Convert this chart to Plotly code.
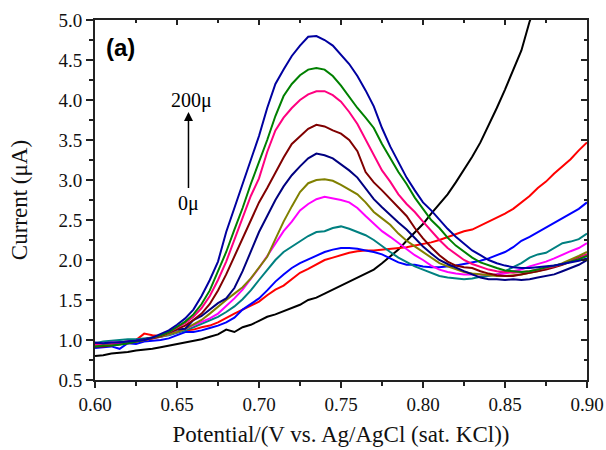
import numpy as np
import plotly.graph_objects as go

potential = [round(0.600 + 0.005 * i, 3) for i in range(61)]

i_black = [0.80, 0.81, 0.83, 0.84, 0.85, 0.87, 0.88, 0.89, 0.91, 0.93, 0.95,
           0.97, 0.99, 1.01, 1.04, 1.07, 1.13, 1.10, 1.16, 1.19, 1.24,
           1.29, 1.32, 1.36, 1.40, 1.44, 1.50, 1.53, 1.58, 1.63, 1.68,
           1.73, 1.78, 1.83, 1.88, 1.96, 2.04, 2.13, 2.24, 2.35, 2.45,
           2.58, 2.70, 2.82, 2.97, 3.13, 3.29, 3.47, 3.68, 3.90, 4.13,
           4.38, 4.62, 4.98, 5.25]

i_red = [0.94, 0.95, 0.96, 0.97, 0.98, 1.00, 1.08, 1.06, 1.05, 1.07, 1.10,
         1.12, 1.13, 1.16, 1.18, 1.22, 1.28, 1.33, 1.38, 1.43, 1.48,
         1.56, 1.63, 1.68, 1.76, 1.84, 1.89, 1.94, 2.00, 2.03, 2.06,
         2.09, 2.11, 2.12, 2.12, 2.13, 2.14, 2.15, 2.16, 2.18, 2.20,
         2.22, 2.25, 2.29, 2.33, 2.36, 2.38, 2.43, 2.47, 2.52, 2.58,
         2.64, 2.72, 2.80, 2.90, 2.98, 3.08, 3.17, 3.26, 3.37, 3.47]

i_blue = [0.90, 0.91, 0.92, 0.89, 0.96, 0.95, 0.98, 0.99, 1.00, 1.02, 1.06,
          1.10, 1.10, 1.12, 1.15, 1.18, 1.22, 1.28, 1.38, 1.45, 1.52,
          1.62, 1.73, 1.82, 1.90, 1.96, 2.01, 2.06, 2.10, 2.13, 2.15,
          2.15, 2.14, 2.12, 2.10, 2.07, 2.02, 1.97, 1.94, 1.94, 1.92,
          1.91, 1.91, 1.92, 1.93, 1.95, 1.97, 1.99, 2.02, 2.06, 2.10,
          2.16, 2.24, 2.29, 2.35, 2.41, 2.47, 2.52, 2.58, 2.64, 2.72]

i_teal = [0.96, 0.98, 0.99, 1.00, 1.01, 1.01, 1.02, 1.03, 1.04, 1.06, 1.09,
          1.12, 1.16, 1.20, 1.24, 1.29, 1.35, 1.42, 1.51, 1.62, 1.75,
          1.87, 2.00, 2.10, 2.17, 2.24, 2.30, 2.35, 2.36, 2.40, 2.42,
          2.39, 2.35, 2.31, 2.25, 2.17, 2.10, 2.03, 1.97, 1.92, 1.88,
          1.84, 1.80, 1.78, 1.77, 1.76, 1.77, 1.79, 1.80, 1.82, 1.86,
          1.91, 1.96, 2.03, 2.07, 2.09, 2.15, 2.21, 2.23, 2.26, 2.33]

i_magenta = [0.96, 0.96, 0.97, 0.97, 0.98, 0.99, 1.00, 1.02, 1.04, 1.07, 1.10,
             1.14, 1.18, 1.22, 1.27, 1.33, 1.42, 1.52, 1.63, 1.76, 1.90,
             2.05, 2.20, 2.36, 2.48, 2.62, 2.70, 2.76, 2.79, 2.77, 2.75,
             2.72, 2.65, 2.55, 2.45, 2.36, 2.29, 2.21, 2.13, 2.06, 2.00,
             1.93, 1.88, 1.85, 1.83, 1.82, 1.82, 1.82, 1.81, 1.82, 1.83,
             1.86, 1.88, 1.92, 1.95, 1.98, 2.02, 2.07, 2.11, 2.15, 2.21]

i_olive = [0.93, 0.94, 0.94, 0.95, 0.97, 0.98, 1.00, 1.02, 1.04, 1.07, 1.10,
           1.14, 1.19, 1.25, 1.33, 1.42, 1.50, 1.58, 1.66, 1.77, 1.90,
           2.04, 2.26, 2.48, 2.67, 2.85, 2.96, 3.00, 3.01, 2.99, 2.94,
           2.88, 2.82, 2.72, 2.60, 2.52, 2.44, 2.33, 2.24, 2.17, 2.10,
           2.02, 1.96, 1.92, 1.88, 1.85, 1.83, 1.82, 1.81, 1.80, 1.80,
           1.81, 1.82, 1.84, 1.86, 1.89, 1.92, 1.96, 2.00, 2.05, 2.10]

i_navy = [0.95, 0.95, 0.96, 0.97, 0.98, 0.99, 1.01, 1.03, 1.06, 1.10, 1.13,
          1.14, 1.25, 1.30, 1.38, 1.46, 1.52, 1.65, 1.86, 2.10, 2.35,
          2.55, 2.75, 2.92, 3.06, 3.17, 3.27, 3.33, 3.31, 3.27, 3.20,
          3.12, 3.03, 2.90, 2.76, 2.66, 2.56, 2.47, 2.38, 2.27, 2.17,
          2.08, 2.00, 1.95, 1.90, 1.86, 1.82, 1.78, 1.76, 1.76, 1.75,
          1.76, 1.75, 1.76, 1.78, 1.80, 1.82, 1.86, 1.90, 1.94, 2.00]

i_maroon = [0.92, 0.92, 0.93, 0.95, 0.96, 0.98, 1.00, 1.02, 1.05, 1.09, 1.13,
            1.18, 1.25, 1.33, 1.45, 1.62, 1.82, 2.05, 2.28, 2.50, 2.72,
            2.90, 3.10, 3.28, 3.45, 3.55, 3.64, 3.69, 3.67, 3.62, 3.58,
            3.50, 3.36, 3.10, 2.97, 2.87, 2.76, 2.65, 2.55, 2.40, 2.27,
            2.16, 2.06, 1.98, 1.93, 1.91, 1.90, 1.86, 1.83, 1.81, 1.80,
            1.80, 1.82, 1.84, 1.86, 1.88, 1.91, 1.94, 1.98, 2.03, 2.07]

i_pink = [0.94, 0.94, 0.95, 0.96, 0.97, 0.98, 1.00, 1.03, 1.06, 1.10, 1.15,
          1.21, 1.29, 1.40, 1.55, 1.75, 1.98, 2.25, 2.52, 2.80, 3.02,
          3.35, 3.62, 3.78, 3.90, 4.00, 4.07, 4.11, 4.11, 4.06, 3.98,
          3.85, 3.70, 3.50, 3.32, 3.12, 2.98, 2.82, 2.70, 2.60, 2.48,
          2.36, 2.25, 2.15, 2.07, 2.00, 1.95, 1.91, 1.88, 1.86, 1.85,
          1.84, 1.85, 1.86, 1.88, 1.90, 1.92, 1.95, 1.98, 2.02, 2.07]

i_green = [0.92, 0.93, 0.93, 0.94, 0.96, 0.98, 1.00, 1.03, 1.06, 1.10, 1.16,
           1.23, 1.32, 1.45, 1.62, 1.85, 2.10, 2.38, 2.65, 2.95, 3.22,
           3.50, 3.80, 4.05, 4.20, 4.31, 4.38, 4.40, 4.38, 4.30, 4.18,
           4.04, 3.90, 3.78, 3.65, 3.45, 3.28, 3.10, 2.95, 2.78, 2.64,
           2.50, 2.40, 2.28, 2.18, 2.10, 2.03, 1.97, 1.93, 1.90, 1.87,
           1.86, 1.85, 1.86, 1.88, 1.91, 1.93, 1.95, 1.98, 2.01, 2.05]

i_darkblue = [0.97, 0.96, 0.97, 0.97, 0.98, 0.99, 1.00, 1.03, 1.07, 1.12, 1.19,
              1.27, 1.38, 1.55, 1.75, 1.98, 2.35, 2.65, 2.95, 3.27, 3.55,
              3.90, 4.20, 4.38, 4.55, 4.68, 4.79, 4.80, 4.75, 4.68, 4.56,
              4.45, 4.30, 4.12, 3.92, 3.65, 3.42, 3.22, 3.03, 2.87, 2.72,
              2.62, 2.50, 2.39, 2.29, 2.20, 2.12, 2.06, 2.00, 1.96, 1.93,
              1.91, 1.90, 1.90, 1.91, 1.92, 1.93, 1.95, 1.97, 1.99, 2.02]

series = [
    (i_black, "#000000"),
    (i_red, "#FF0000"),
    (i_blue, "#0000FF"),
    (i_teal, "#008080"),
    (i_magenta, "#FF00FF"),
    (i_olive, "#808000"),
    (i_navy, "#000080"),
    (i_maroon, "#800000"),
    (i_pink, "#FF0080"),
    (i_green, "#008000"),
    (i_darkblue, "#0000A0"),
]

fig = go.Figure()
for vals, col in series:
    fig.add_trace(go.Scatter(x=potential[:len(vals)], y=vals, mode="lines",
                             line=dict(color=col, width=2), showlegend=False,
                             hoverinfo="skip"))

# dummy trace to carry the mirrored (top/right) axes
fig.add_trace(go.Scatter(x=[None], y=[None], xaxis="x2", yaxis="y2",
                         showlegend=False, hoverinfo="skip"))

serif = "Liberation Serif, Times New Roman, serif"
axis_common = dict(showgrid=False, zeroline=False, showline=True,
                   linecolor="#222222", linewidth=2, tickcolor="#222222",
                   tickwidth=1.5, automargin=False)

fig.update_layout(
    template="none",
    width=606, height=450,
    margin=dict(l=95, r=19, t=20, b=70, pad=0),
    paper_bgcolor="white", plot_bgcolor="white",
    font=dict(family=serif, size=19, color="#111111"),
    xaxis=dict(range=[0.6, 0.9], dtick=0.05, tickformat=".2f",
               ticks="outside", ticklen=6,
               minor=dict(dtick=0.025, ticks="outside", ticklen=4,
                          tickcolor="#222222"),
               title=dict(text="Potential/(V vs. Ag/AgCl (sat. KCl))",
                          font=dict(size=23), standoff=12),
               tickfont=dict(size=19), **axis_common),
    yaxis=dict(range=[0.5, 5.0], dtick=0.5, tickformat=".1f",
               ticks="outside", ticklen=7,
               minor=dict(dtick=0.25, ticks="outside", ticklen=4,
                          tickcolor="#222222"),
               title=dict(text="Current (μA)", font=dict(size=23), standoff=24),
               tickfont=dict(size=19), **axis_common),
    xaxis2=dict(range=[0.6, 0.9], dtick=0.05, overlaying="x", side="top",
                ticks="inside", ticklen=5, showticklabels=False,
                minor=dict(dtick=0.025, ticks="inside", ticklen=3,
                           tickcolor="#222222"),
                **axis_common),
    yaxis2=dict(range=[0.5, 5.0], dtick=0.5, overlaying="y", side="right",
                ticks="inside", ticklen=6, showticklabels=False,
                minor=dict(dtick=0.25, ticks="inside", ticklen=3,
                           tickcolor="#222222"),
                **axis_common),
)

fig.add_annotation(x=0.657, y=3.85, ax=0.657, ay=2.88, xref="x", yref="y",
                   axref="x", ayref="y", text="", showarrow=True,
                   arrowhead=2, arrowsize=1.2, arrowwidth=1.5, arrowcolor="black")
fig.add_annotation(x=0.6588, y=4.0, xref="x", yref="y", text="200μ",
                   showarrow=False, font=dict(family=serif, size=20, color="black"))
fig.add_annotation(x=0.657, y=2.71, xref="x", yref="y", text="0μ",
                   showarrow=False, font=dict(family=serif, size=20, color="black"))
fig.add_annotation(x=0.6158, y=4.66, xref="x", yref="y", text="<b>(a)</b>",
                   showarrow=False,
                   font=dict(family="Liberation Sans, Arial, sans-serif", size=24,
                             color="black"))

fig.write_html("out.html")
